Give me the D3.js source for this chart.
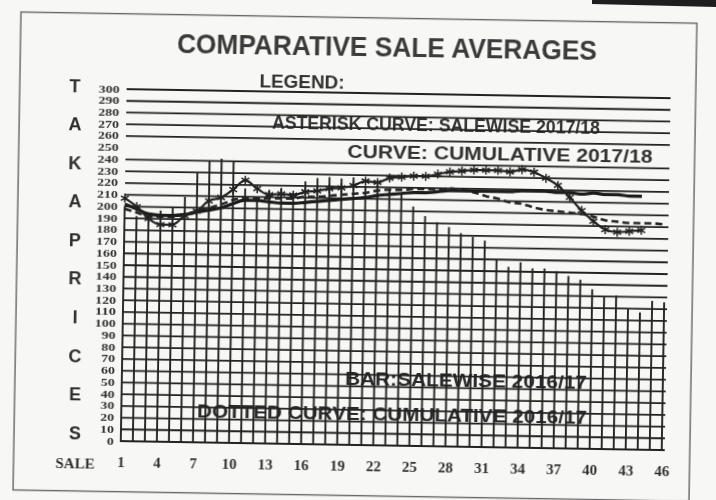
<!DOCTYPE html>
<html><head><meta charset="utf-8">
<script src="https://cdn.jsdelivr.net/npm/d3@7"></script>
<style>
html,body{margin:0;padding:0;background:#f7f7f5;}
svg{display:block;}
</style></head><body>
<svg id="chart" width="716" height="500"></svg>
<script>
// ---------------- DATA ----------------
const sales = d3.range(1, 47);                       // sale numbers 1..46
const xTickLabels = [1,4,7,10,13,16,19,22,25,28,31,34,37,40,43,46];
const yTickValues = d3.range(0, 301, 10);            // 0..300 Taka
const gridValues = yTickValues.filter(v => v !== 250);

// Bar: salewise 2016/17 (drawn as vertical rules, one per sale)
const barSalewise201617 = [200,192,194,197,200,209,230,240,242,240,
                           217,210,216,218,214,224,227,228,227,228,
                           221,222,218,214,204,196,191,187,182,179,
                           176,160,154,158,153,153,151,147,144,136,
                           130,131,120,117,127,126];
// Asterisk curve: salewise 2017/18 (sales 1..44)
const asteriskSalewise201718 = [207,200,190,185,185,193,197,206,209,216,
                                224,217,212,213,212,215,216,218,219,221,
                                225,224,228,229,230,230,232,234,235,236,
                                236,236,235,237,235,230,224,214,203,194,
                                187,185,186,187];
// Solid curve: cumulative 2017/18 (sales 1..44)
const cumulative201718 = [202,198,194,193,193,194,196,198,200,204,
                          207,207,206,205,205,206,207,208,209,210,
                          211,213,214,215,216,216,217,218,218,218,
                          218,218,218,219,219,219,218,218,217,218,
                          217,217,216,216];
// Dotted curve: cumulative 2016/17 (sales 1..46)
const cumulative201617 = [198,195,192,192,192,194,197,200,203,207,
                          209,209,209,209,209,211,211,212,213,214,
                          215,217,218,218,219,219,219,220,219,217,
                          214,212,209,208,205,203,202,201,200,198,
                          195,194,193,193,193,192];

const titleText = "COMPARATIVE SALE AVERAGES";
const legendTitle = "LEGEND:";
const legendTop = ["ASTERISK CURVE: SALEWISE 2017/18", "CURVE:  CUMULATIVE 2017/18"];
const legendBottom = ["BAR:SALEWISE 2016/17", "DOTTED CURVE: CUMULATIVE 2016/17"];
const axisTitleLetters = "TAKAPRICES".split("");
const xAxisTitle = "SALE";

// ---------------- LAYOUT ----------------
const W = 716, H = 500;
const ANG = 0.95, CX = 358, CY = 250;       // scan is slightly rotated
const rad = ANG * Math.PI / 180, s = Math.sin(rad), c = Math.cos(rad);
// convert a position seen in the (rotated) picture into the group frame
function unrot(X, Y) {
  const dx = X - CX, dy = Y - CY;
  return [CX + dx * c + dy * s, CY - dx * s + dy * c];
}
const ink = "#242424";

const svg = d3.select("#chart");
svg.append("rect").attr("width", W).attr("height", H).attr("fill", "#f7f7f5");

const defs = svg.append("defs");
defs.append("filter").attr("id", "scan").attr("x", "-5%").attr("y", "-5%")
  .attr("width", "110%").attr("height", "110%")
  .append("feGaussianBlur").attr("stdDeviation", 0.45);

const g = svg.append("g")
  .attr("transform", `rotate(${ANG},${CX},${CY})`)
  .attr("filter", "url(#scan)");

const x = d3.scaleLinear().domain([1, 46]).range([124, 665]);
const y = d3.scaleLinear().domain([0, 300]).range([445, 93]);

// frame
{
  const [fx, fy] = unrot(21, 12);
  g.append("rect").attr("x", fx).attr("y", fy).attr("width", 676).attr("height", 478)
    .attr("fill", "none").attr("stroke", "#666").attr("stroke-width", 1.4);
}

// texts (drawn under the grid, as in the scan)
function addText(str, X, Y, size, len, fill, family) {
  const [tx, ty] = unrot(X, Y);
  g.append("text").attr("x", tx).attr("y", ty)
    .attr("text-anchor", "middle").attr("dominant-baseline", "central")
    .attr("font-family", family || "'Liberation Sans', Arial, sans-serif")
    .attr("font-weight", "bold").attr("font-size", size)
    .attr("fill", fill)
    .attr("textLength", len).attr("lengthAdjust", "spacingAndGlyphs")
    .text(str);
}
addText(titleText, 387, 47, 28, 420, "#3a3a3a");
addText(legendTitle, 302, 82, 18, 85, "#333");
addText(legendTop[0], 436, 125, 19, 328, "#333");
addText(legendTop[1], 500, 154, 19, 305, "#333");
addText(legendBottom[0], 466, 381, 18, 242, "#2a2a2a");
addText(legendBottom[1], 392, 415, 18, 390, "#2a2a2a");

// vertical axis title letters
const letterY = d3.scaleLinear().domain([0, axisTitleLetters.length - 1]).range([86, 433]);
axisTitleLetters.forEach((L, i) => {
  const [tx, ty] = unrot(75, letterY(i));
  g.append("text").attr("x", tx).attr("y", ty)
    .attr("text-anchor", "middle").attr("dominant-baseline", "central")
    .attr("font-family", "'Liberation Sans', Arial, sans-serif")
    .attr("font-weight", "bold").attr("font-size", 18).attr("fill", "#2e2e2e")
    .text(L);
});

// horizontal grid lines
g.append("g").selectAll("line").data(gridValues).join("line")
  .attr("x1", x(1)).attr("x2", x(46) + 3)
  .attr("y1", d => y(d)).attr("y2", d => y(d))
  .attr("stroke", ink).attr("stroke-width", 1.8);

// bars (vertical rules)
g.append("g").selectAll("line").data(sales).join("line")
  .attr("x1", d => x(d)).attr("x2", d => x(d))
  .attr("y1", y(0) + 1).attr("y2", (d, i) => y(barSalewise201617[i]))
  .attr("stroke", ink).attr("stroke-width", 1.9);

// y axis labels (small, widened digits)
const yAxis = d3.axisLeft(y).tickValues(yTickValues).tickSize(0).tickPadding(0);
const ya = g.append("g").attr("transform", `translate(117,0)`).call(yAxis);
ya.select(".domain").remove();
ya.selectAll("text")
  .attr("font-family", "'Liberation Serif', 'Times New Roman', serif")
  .attr("font-weight", "bold").attr("font-size", 9.5).attr("fill", "#333")
  .attr("textLength", d => String(d).length * 7)
  .attr("lengthAdjust", "spacingAndGlyphs");

// x axis labels
const xAxis = d3.axisBottom(x).tickValues(xTickLabels).tickSize(0).tickPadding(0);
const xa = g.append("g").attr("transform", `translate(0,460)`).call(xAxis);
xa.select(".domain").remove();
xa.selectAll("text")
  .attr("font-family", "'Liberation Serif', 'Times New Roman', serif")
  .attr("font-weight", "bold").attr("font-size", 15).attr("fill", "#333");
{
  const [tx, ty] = unrot(75, 463);
  g.append("text").attr("x", tx).attr("y", ty)
    .attr("text-anchor", "middle").attr("dominant-baseline", "central")
    .attr("font-family", "'Liberation Serif', 'Times New Roman', serif")
    .attr("font-weight", "bold").attr("font-size", 15).attr("fill", "#333")
    .text(xAxisTitle);
}

// curves
const line = d3.line().x(d => x(d[0])).y(d => y(d[1])).curve(d3.curveMonotoneX);
const ptsDot = cumulative201617.map((v, i) => [sales[i], v]);
const ptsSolid = cumulative201718.map((v, i) => [sales[i], v]);
const ptsAst = asteriskSalewise201718.map((v, i) => [sales[i], v]);

g.append("path").attr("d", line(ptsDot)).attr("fill", "none")
  .attr("stroke", "#262626").attr("stroke-width", 2.6).attr("stroke-dasharray", "7,4");
g.append("path").attr("d", line(ptsSolid)).attr("fill", "none")
  .attr("stroke", "#1c1c1c").attr("stroke-width", 3.2);
g.append("path").attr("d", line(ptsAst)).attr("fill", "none")
  .attr("stroke", "#222").attr("stroke-width", 2.2);

// asterisk markers
const r = 4.5;
const astPath = d3.path();
for (let k = 0; k < 3; k++) {
  const a = Math.PI / 2 + k * Math.PI / 3;
  astPath.moveTo(r * Math.cos(a), r * Math.sin(a));
  astPath.lineTo(-r * Math.cos(a), -r * Math.sin(a));
}
g.append("g").selectAll("path").data(ptsAst).join("path")
  .attr("transform", d => `translate(${x(d[0])},${y(d[1])})`)
  .attr("d", astPath.toString())
  .attr("stroke", "#222").attr("stroke-width", 1.5).attr("fill", "none");

// dark scan edge at top right
svg.append("polygon").attr("points", "592,0 716,0 716,7 592,4").attr("fill", "#1e1e1e");
</script>
</body></html>
